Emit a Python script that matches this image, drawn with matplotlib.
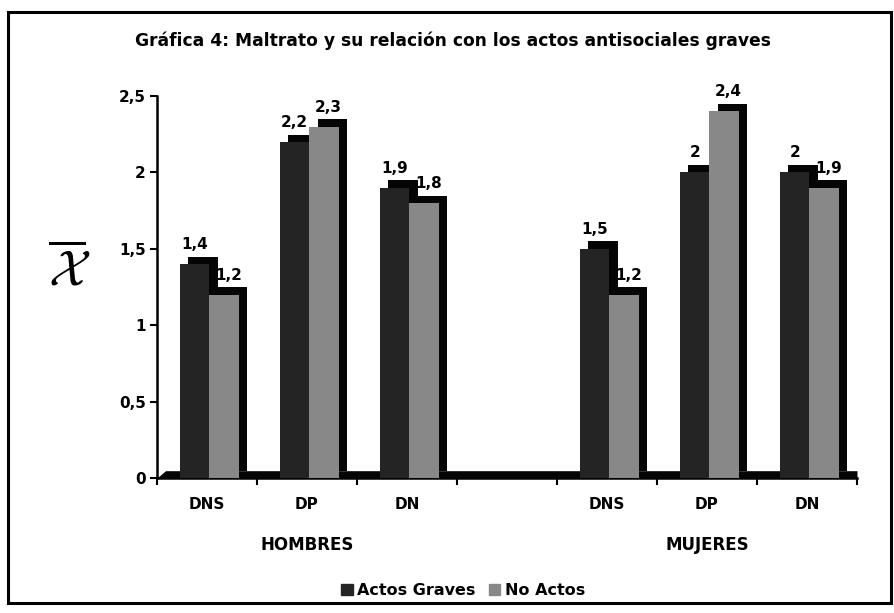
import matplotlib
matplotlib.use('Agg')
import matplotlib.pyplot as plt
from matplotlib.patches import Patch, Rectangle
import numpy as np

# ── datos ─────────────────────────────────────────────────────
categorias      = ["DNS", "DP", "DN"]
grupos          = ["HOMBRES", "MUJERES"]
hombres_graves  = [1.4, 2.2, 1.9]
hombres_no      = [1.2, 2.3, 1.8]
mujeres_graves  = [1.5, 2.0, 2.0]
mujeres_no      = [1.2, 2.4, 1.9]
yticks          = [0, 0.5, 1, 1.5, 2, 2.5]

COL_GRAVES = "#242424"
COL_NO     = "#888888"
COL_SIDE   = "#050505"

plt.rcParams['font.family'] = ['DejaVu Sans']
plt.rcParams['font.weight'] = 'bold'

fig = plt.figure(figsize=(8.94, 6.13), dpi=100)
ax = fig.add_axes([0.1756, 0.2202, 0.783, 0.6232])

# posiciones: 3 categorias, un hueco, 3 categorias
pos_h = np.arange(3)
pos_m = np.arange(3) + 4
x = np.concatenate([pos_h, pos_m])
graves = np.array(hombres_graves + mujeres_graves)
no_act = np.array(hombres_no + mujeres_no)

w = 0.295
dx = 0.085          # profundidad 3D (en unidades de categoria)
dy = 0.048          # profundidad 3D (en unidades de y)
x_g = x - 0.5 + 0.23 + w / 2
x_n = x_g + w

# suelo 3D
ax.fill_between([-0.5, -0.5 + dx, 6.5], [0, dy, dy], 0, color=COL_SIDE, lw=0, zorder=1)

# caras laterales (sombra desplazada) y frontales
ax.bar(x_g + dx, graves, w, bottom=dy, color=COL_SIDE, lw=0, zorder=2)
ax.bar(x_g, graves, w, color=COL_GRAVES, lw=0, zorder=3)
ax.bar(x_n + dx, no_act, w, bottom=dy, color=COL_SIDE, lw=0, zorder=4)
ax.bar(x_n, no_act, w, color=COL_NO, lw=0, zorder=5)

def fmt(v):
    s = f"{v:.1f}".replace(".", ",")
    return s[:-2] if s.endswith(",0") else s

for xi, v in zip(x_g, graves):
    ax.text(xi, v + dy + 0.03, fmt(v), ha="center", va="bottom",
            fontsize=11, fontweight="bold", zorder=6)
for xi, v in zip(x_n, no_act):
    ax.text(xi + dx / 2, v + dy + 0.03, fmt(v), ha="center", va="bottom",
            fontsize=11, fontweight="bold", zorder=6)

ax.set_xlim(-0.5, 6.5)
ax.set_ylim(0, 2.5)
ax.set_yticks(yticks)
ax.set_yticklabels([fmt(t) if t != 0 else "0" for t in yticks], fontsize=11, fontweight="bold")
ax.set_xticks(np.arange(-0.5, 7.0, 1.0))
ax.set_xticklabels([])
ax.set_xticks(x, [c for _ in grupos for c in categorias], minor=True)
ax.tick_params(axis="x", which="minor", length=0, pad=14, labelsize=11)
ax.tick_params(axis="x", which="major", length=5, width=1.5, direction="out")
ax.tick_params(axis="y", length=5, width=1.5, direction="out", pad=3)
for lab in ax.get_xticklabels(minor=True):
    lab.set_fontweight("bold")

for s in ["top", "right"]:
    ax.spines[s].set_visible(False)
for s in ["left", "bottom"]:
    ax.spines[s].set_linewidth(1.8)

# etiquetas de grupo
for g, p in zip(grupos, [pos_h[1], pos_m[1]]):
    ax.text(p, -0.44, g, ha="center", va="center", fontsize=12, fontweight="bold")

# eje y: media
fig.text(0.077, 0.558, r"$\overline{\mathcal{X}}$", fontsize=36, ha="center", va="center",
         math_fontfamily="cm")

fig.text(0.151, 0.934, "Gráfica 4: Maltrato y su relación con los actos antisociales graves",
         fontsize=12.3, fontweight="bold", ha="left", va="center")

handles = [Patch(color=COL_GRAVES, label="Actos Graves"),
           Patch(color=COL_NO, label="No Actos")]
fig.legend(handles=handles, loc="center", bbox_to_anchor=(0.518, 0.037), ncol=2,
           frameon=False, prop={"weight": "bold", "size": 11.5},
           handlelength=0.7, handleheight=0.7, handletextpad=0.3, columnspacing=0.8)

fig.patches.append(Rectangle((0.009, 0.017), 0.988, 0.963, transform=fig.transFigure,
                             fill=False, lw=2.2, ec="black"))

fig.savefig("out.png", dpi=100)
